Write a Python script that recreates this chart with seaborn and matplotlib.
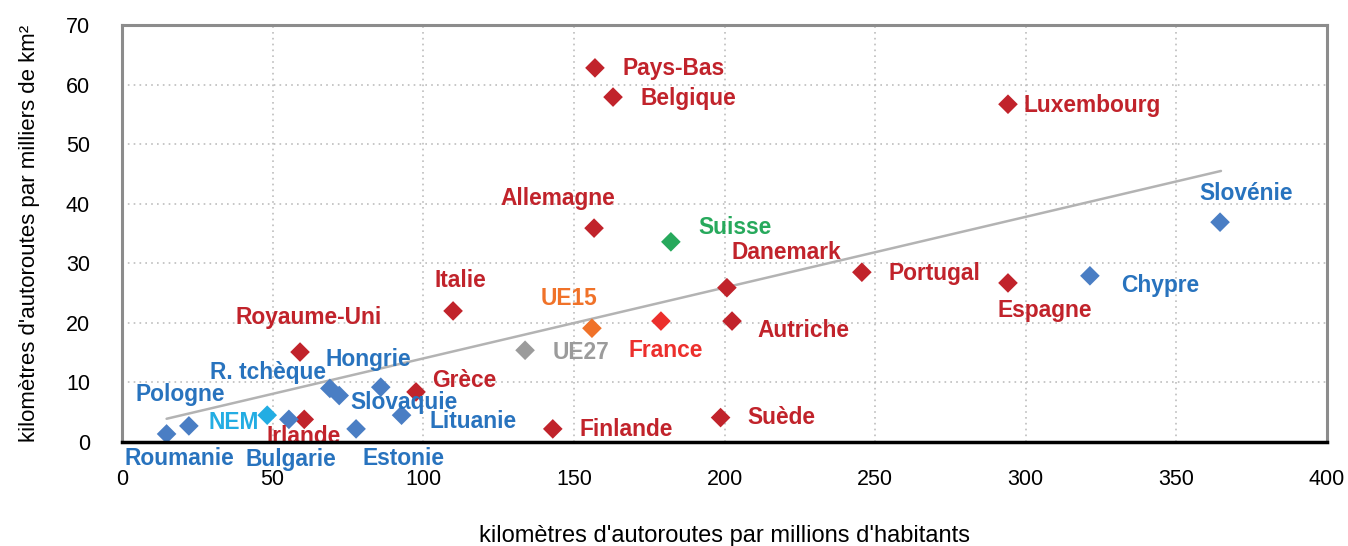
import matplotlib
matplotlib.use("Agg")
import matplotlib.pyplot as plt
import seaborn as sns
import pandas as pd

# ---- data ----
countries = ["Pays-Bas", "Belgique", "Luxembourg", "Allemagne", "Suisse", "Slovénie",
             "Danemark", "Portugal", "Espagne", "Chypre", "Italie", "UE15", "France",
             "Autriche", "UE27", "Royaume-Uni", "Hongrie", "R. tchèque", "Slovaquie",
             "Pologne", "Grèce", "NEM", "Lituanie", "Irlande", "Roumanie", "Bulgarie",
             "Estonie", "Finlande", "Suède"]
km_per_million_inh = [157.0, 163.0, 294.1, 156.7, 182.2, 364.5,
                      200.8, 245.6, 294.1, 321.3, 109.9, 156.0, 178.9,
                      202.5, 133.8, 59.1, 85.9, 69.0, 72.1,
                      22.2, 97.6, 48.2, 92.8, 60.5, 14.8, 55.4,
                      77.7, 143.0, 198.7]
km_per_thousand_km2 = [62.8, 57.9, 56.7, 35.9, 33.6, 36.9,
                       25.9, 28.5, 26.7, 27.9, 22.0, 19.1, 20.3,
                       20.3, 15.4, 15.1, 9.2, 9.0, 7.8,
                       2.7, 8.4, 4.5, 4.5, 3.8, 1.35, 3.8,
                       2.2, 2.2, 4.1]
groups = ["UE15", "UE15", "UE15", "UE15", "Suisse", "NEM",
          "UE15", "UE15", "UE15", "NEM", "UE15", "agg15", "France",
          "UE15", "agg27", "UE15", "NEM", "NEM", "NEM",
          "NEM", "UE15", "aggNEM", "NEM", "UE15", "NEM", "NEM",
          "NEM", "UE15", "UE15"]
trend_x = [14.8, 364.8]
trend_y = [3.9, 45.5]
x_ticks = [0, 50, 100, 150, 200, 250, 300, 350, 400]
y_ticks = [0, 10, 20, 30, 40, 50, 60, 70]

# ---- styling ----
marker_colors = {"UE15": "#C1232B", "NEM": "#4A7EC4", "Suisse": "#27A95C",
                 "France": "#EC2F2C", "agg15": "#F07229", "agg27": "#9B9B9B",
                 "aggNEM": "#23ADE3"}
label_colors = {"UE15": "#C1232B", "NEM": "#2873BE", "Suisse": "#27A95C",
                "France": "#EC2F2C", "agg15": "#F07229", "agg27": "#9B9B9B",
                "aggNEM": "#23ADE3"}
# label offsets in pixels (dx, dy, ha)
label_offsets = {
    "Pays-Bas": (28, -1, "left"), "Belgique": (27, -1, "left"),
    "Luxembourg": (16, -1, "left"), "Allemagne": (-36, 30, "center"),
    "Suisse": (27, 14, "left"), "Slovénie": (26, 29, "center"),
    "Danemark": (5, 35, "left"), "Portugal": (27, -1, "left"),
    "Espagne": (37, -28, "center"), "Chypre": (31, -10, "left"),
    "Italie": (7, 30, "center"), "UE15": (-23, 30, "center"),
    "France": (5, -29, "center"), "Autriche": (25, -9, "left"),
    "UE27": (28, -2, "left"), "Royaume-Uni": (9, 35, "center"),
    "Hongrie": (-12, 28, "center"), "R. tchèque": (-4, 16, "right"),
    "Slovaquie": (11, -7, "left"), "Pologne": (-9, 31, "center"),
    "Grèce": (16, 11, "left"), "NEM": (-8, -7, "right"),
    "Lituanie": (28, -6, "left"), "Irlande": (-1, -17, "center"),
    "Roumanie": (13, -25, "center"), "Bulgarie": (2, -40, "center"),
    "Estonie": (47, -30, "center"), "Finlande": (27, -1, "left"),
    "Suède": (27, 0, "left"),
}

sns.set_style("white")
plt.rcParams["font.family"] = ["Liberation Sans", "DejaVu Sans"]

df = pd.DataFrame({"country": countries, "x": km_per_million_inh,
                   "y": km_per_thousand_km2, "group": groups})

fig = plt.figure(figsize=(13.48, 5.46), dpi=100)
ax = fig.add_axes([122 / 1348, 1 - 442 / 546, (1327 - 122) / 1348, (442 - 25) / 546])

ax.plot(trend_x, trend_y, color="#B3B3B3", lw=1.8, zorder=2)

sns.scatterplot(data=df, x="x", y="y", hue="group", palette=marker_colors,
                marker="D", s=100, linewidth=0, legend=False, ax=ax, zorder=3)

for _, r in df.iterrows():
    dx, dy, ha = label_offsets[r["country"]]
    ax.annotate(r["country"], (r["x"], r["y"]), xytext=(dx, dy),
                textcoords="offset pixels", ha=ha, va="center",
                fontsize=16.4, fontweight="bold", color=label_colors[r["group"]],
                annotation_clip=False, zorder=4)

ax.set_xlim(0, 400)
ax.set_ylim(0, 70)
ax.set_xticks(x_ticks)
ax.set_yticks(y_ticks)
ax.grid(True, linestyle=(0, (1, 2.5)), color="#BDBDBD", linewidth=1.2)
ax.set_axisbelow(True)

for side in ["left", "top", "right"]:
    ax.spines[side].set_color("#8C8C8C")
    ax.spines[side].set_linewidth(2.2)
ax.spines["bottom"].set_color("black")
ax.spines["bottom"].set_linewidth(2.5)
ax.spines["bottom"].set_zorder(5)

ax.tick_params(axis="x", direction="out", length=4.5, width=2, color="black",
               labelsize=15.5, pad=15, labelcolor="black")
ax.tick_params(axis="y", direction="out", length=4, width=1.5, color="#8C8C8C",
               labelsize=15.5, pad=19, labelcolor="black")
ax.set_xlabel("kilomètres d'autoroutes par millions d'habitants", fontsize=17,
              labelpad=25, color="black")
ax.set_ylabel("kilomètres d'autoroutes par milliers de km²", fontsize=16,
              labelpad=19, color="black")

fig.savefig("out.png", dpi=100)
